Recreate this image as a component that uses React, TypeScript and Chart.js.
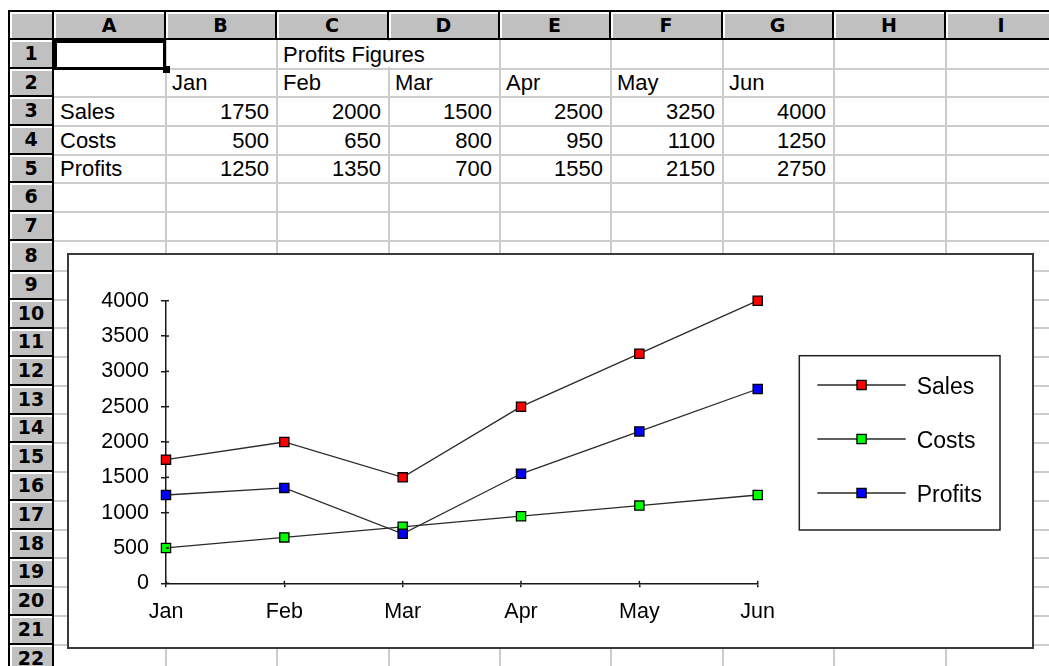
import React, { useEffect, useRef } from "react";
import { Chart, registerables } from "chart.js";

Chart.register(...registerables);

// ---------------- data ----------------
const months = ["Jan", "Feb", "Mar", "Apr", "May", "Jun"];
const seriesNames = ["Sales", "Costs", "Profits"];
const sales = [1750, 2000, 1500, 2500, 3250, 4000];
const costs = [500, 650, 800, 950, 1100, 1250];
const profits = [1250, 1350, 700, 1550, 2150, 2750];
const yTickValues = [0, 500, 1000, 1500, 2000, 2500, 3000, 3500, 4000];
const columnLetters = ["A", "B", "C", "D", "E", "F", "G", "H", "I"];
const rowNumbers = ["1", "2", "3", "4", "5", "6", "7", "8", "9", "10", "11", "12", "13", "14", "15", "16", "17", "18", "19", "20", "21", "22"];
const sheetTitle = "Profits Figures";

// ---------------- styles ----------------
const seriesColors = ["#ff0000", "#00ff00", "#0000ff"];
const seriesOrder = [2, 1, 0];
const FONT_FAMILY = "'Liberation Sans', Arial, sans-serif";
const HEAD_FONT = "'DejaVu Sans', Verdana, sans-serif";
const AXIS_COLOR = "#1a1a1a";
const LINE_COLOR = "#2a2a2a";
const GRID_COLOR = "#cccccc";
const HEAD_BG = "#c0c0c0";

// sheet geometry (page px)
const COL_EDGES = [54, 166, 277, 389, 500, 611, 723, 834, 946, 1058];
const ROW_EDGES = [40, 69, 97, 126, 155, 183, 212, 241, 271.5, 300, 328.5, 357, 386, 414.5, 443, 472, 501, 530, 558.5, 587, 616, 645, 674];
const HEAD_TOP = 12;
const LEFT_EDGE = 10;

// chart box (page px)
const BOX = { left: 67, top: 253, width: 967, height: 396, border: 2 };
const CANVAS_W = BOX.width - 2 * BOX.border;
const CANVAS_H = BOX.height - 2 * BOX.border;

// plot geometry (canvas px)
const PLOT_LEFT = 97;
const PLOT_TOP = 45.7;
const PLOT_RIGHT = 688.7;
const PLOT_BOTTOM = 328.3;
const AXIS_FONT = 21.5;

// legend geometry (canvas px)
const LEG_FONT = 23;
const LEG_STEP = 54;
const LEG_FIRST_CY = 133;
const LEG_ICON_DY = -3;
const LEG_LINE_X0 = 748.3;
const LEG_LINE_X1 = 836.7;
const LEG_MARK_CX = 792.5;
const LEG_TEXT_X = 847.7;
const LEG_FRAME = { x: 730.3, y: 100.7, w: 200.7, h: 174.3 };
const MARKER_SIDE = 9.2;

const LEG_PAD = LEG_STEP - LEG_FONT;
const LEG_X0 = PLOT_RIGHT + LEG_PAD;
const LEG_BOX_W = LEG_TEXT_X - LEG_FONT / 2 - LEG_X0;
const ICON_CX = LEG_X0 + LEG_BOX_W / 2;
const ICON_W = Math.ceil(2 * Math.max(LEG_LINE_X1 - ICON_CX, ICON_CX - LEG_LINE_X0)) + 2;
const ICON_H = 24;
const ICON_LEFT = ICON_CX - ICON_W / 2;
const LEG_TITLE_H = LEG_FIRST_CY - LEG_FONT / 2 - PLOT_TOP - LEG_PAD;

function makeIcon(fill: string): HTMLCanvasElement {
  const c = document.createElement("canvas");
  c.width = ICON_W;
  c.height = ICON_H;
  const g = c.getContext("2d")!;
  const cy = ICON_H / 2 + LEG_ICON_DY;
  g.strokeStyle = LINE_COLOR;
  g.lineWidth = 1.5;
  g.beginPath();
  g.moveTo(LEG_LINE_X0 - ICON_LEFT, cy);
  g.lineTo(LEG_LINE_X1 - ICON_LEFT, cy);
  g.stroke();
  const mx = LEG_MARK_CX - ICON_LEFT;
  const s = MARKER_SIDE;
  g.fillStyle = fill;
  g.fillRect(mx - s / 2, cy - s / 2, s, s);
  g.lineWidth = 1.3;
  g.strokeStyle = "#000";
  g.strokeRect(mx - s / 2, cy - s / 2, s, s);
  return c;
}

const decorPlugin = {
  id: "decor",
  afterDraw(chart: any) {
    const ctx = chart.ctx;
    const area = chart.chartArea;
    const xs = chart.scales.x;
    const ys = chart.scales.y;
    ctx.save();
    ctx.strokeStyle = AXIS_COLOR;
    ctx.lineWidth = 1.5;
    ys.ticks.forEach((_: any, i: number) => {
      const py = ys.getPixelForTick(i);
      ctx.beginPath();
      ctx.moveTo(area.left, py);
      ctx.lineTo(area.left + 3, py);
      ctx.stroke();
    });
    xs.ticks.forEach((_: any, i: number) => {
      const px = xs.getPixelForTick(i);
      ctx.beginPath();
      ctx.moveTo(px, area.bottom);
      ctx.lineTo(px, area.bottom - 2.5);
      ctx.stroke();
    });
    ctx.strokeStyle = "#222";
    ctx.lineWidth = 1.5;
    ctx.strokeRect(LEG_FRAME.x, LEG_FRAME.y, LEG_FRAME.w, LEG_FRAME.h);
    ctx.restore();
  },
};

function ChartBox() {
  const ref = useRef<HTMLCanvasElement | null>(null);
  useEffect(() => {
    const canvas = ref.current;
    if (!canvas) return;
    const m = document.createElement("canvas").getContext("2d")!;
    m.font = `${LEG_FONT}px ${FONT_FAMILY}`;
    const maxTextW = Math.max(...seriesNames.map((n) => m.measureText(n).width));
    const legendWidth = LEG_PAD + LEG_BOX_W + LEG_FONT / 2 + maxTextW + 10;
    const padRight = CANVAS_W - PLOT_RIGHT - legendWidth;
    const icons = seriesColors.map((c) => makeIcon(c));
    const values = [sales, costs, profits];

    const chart = new Chart(canvas, {
      type: "line",
      data: {
        labels: months,
        datasets: seriesNames.map((name, i) => ({
          label: name,
          data: values[i],
          order: seriesOrder[i],
          clip: false,
          borderColor: LINE_COLOR,
          borderWidth: 1.3,
          backgroundColor: seriesColors[i],
          pointStyle: "rect",
          pointRadius: MARKER_SIDE / Math.SQRT2,
          pointHoverRadius: MARKER_SIDE / Math.SQRT2,
          pointBackgroundColor: seriesColors[i],
          pointBorderColor: "#000",
          pointBorderWidth: 1.3,
          tension: 0,
          fill: false,
        })),
      },
      options: {
        responsive: false,
        animation: false,
        devicePixelRatio: 1,
        events: [],
        layout: { padding: { left: 0, top: PLOT_TOP, right: padRight, bottom: 0 } },
        scales: {
          x: {
            type: "category",
            offset: false,
            ticks: {
              color: "#000",
              font: { family: FONT_FAMILY, size: AXIS_FONT },
              padding: 11.5,
              maxRotation: 0,
              autoSkip: false,
            },
            grid: {
              display: true,
              drawOnChartArea: false,
              drawTicks: true,
              tickLength: 4,
              color: AXIS_COLOR,
              lineWidth: 1.5,
            },
            border: { display: true, color: AXIS_COLOR, width: 1.5 },
            afterFit: (s: any) => {
              s.height = CANVAS_H - PLOT_BOTTOM;
            },
          },
          y: {
            min: 0,
            max: 4000,
            afterBuildTicks: (s: any) => {
              s.ticks = yTickValues.map((v) => ({ value: v }));
            },
            ticks: {
              color: "#000",
              font: { family: FONT_FAMILY, size: AXIS_FONT },
              padding: 12,
              callback: (v: any) => String(v),
            },
            grid: {
              display: true,
              drawOnChartArea: false,
              drawTicks: true,
              tickLength: 5,
              color: AXIS_COLOR,
              lineWidth: 1.5,
            },
            border: { display: true, color: AXIS_COLOR, width: 1.5 },
            afterFit: (s: any) => {
              s.width = PLOT_LEFT;
            },
          },
        },
        plugins: {
          tooltip: { enabled: false },
          title: { display: false },
          legend: {
            display: true,
            position: "right",
            align: "start",
            fullSize: false,
            maxWidth: 600,
            title: {
              display: true,
              text: "",
              font: { size: 10, lineHeight: 1.2 },
              padding: { top: LEG_TITLE_H - 12, bottom: 0 },
            },
            labels: {
              usePointStyle: true,
              pointStyleWidth: LEG_BOX_W,
              padding: LEG_PAD,
              color: "#000",
              font: { family: FONT_FAMILY, size: LEG_FONT },
              generateLabels: () =>
                seriesNames.map((name, i) => ({
                  text: name,
                  pointStyle: icons[i] as any,
                  fillStyle: seriesColors[i],
                  strokeStyle: "#000",
                  lineWidth: 0,
                  hidden: false,
                  datasetIndex: i,
                  fontColor: "#000",
                })),
            },
          },
        },
      } as any,
      plugins: [decorPlugin],
    });
    return () => chart.destroy();
  }, []);

  return (
    <div
      style={{
        position: "absolute",
        left: BOX.left,
        top: BOX.top,
        width: BOX.width,
        height: BOX.height,
        boxSizing: "border-box",
        border: `${BOX.border}px solid #3a3a3a`,
        background: "#fff",
      }}
    >
      <canvas ref={ref} width={CANVAS_W} height={CANVAS_H} style={{ display: "block", width: CANVAS_W, height: CANVAS_H }} />
    </div>
  );
}

type Cell = { col: number; row: number; text: string; align: "left" | "right" };

function buildCells(): Cell[] {
  const cells: Cell[] = [];
  cells.push({ col: 2, row: 0, text: sheetTitle, align: "left" });
  months.forEach((mth, j) => cells.push({ col: j + 1, row: 1, text: mth, align: "left" }));
  const values = [sales, costs, profits];
  seriesNames.forEach((name, i) => {
    cells.push({ col: 0, row: 2 + i, text: name, align: "left" });
    values[i].forEach((v, j) => cells.push({ col: j + 1, row: 2 + i, text: String(v), align: "right" }));
  });
  return cells;
}

export default function App() {
  const els: React.ReactNode[] = [];
  const headH = ROW_EDGES[0] - HEAD_TOP;

  // grid lines
  for (let i = 1; i < COL_EDGES.length - 1; i++) {
    els.push(
      <div key={`vg${i}`} style={{ position: "absolute", left: COL_EDGES[i] - 1.5, top: ROW_EDGES[0], width: 2, height: 640, background: GRID_COLOR }} />
    );
  }
  for (let r = 1; r < ROW_EDGES.length; r++) {
    els.push(
      <div key={`hg${r}`} style={{ position: "absolute", left: COL_EDGES[0], top: ROW_EDGES[r] - 1.2, width: 1000, height: 2, background: GRID_COLOR }} />
    );
  }
  // hide gridline under overflowing title text
  els.push(<div key="patch" style={{ position: "absolute", left: COL_EDGES[3] - 3, top: ROW_EDGES[0] + 1, width: 6, height: ROW_EDGES[1] - ROW_EDGES[0] - 3, background: "#fff" }} />);

  const headBase: React.CSSProperties = {
    position: "absolute",
    background: HEAD_BG,
    boxSizing: "border-box",
    borderRight: "2px solid #000",
    borderBottom: "2px solid #000",
    boxShadow: "inset 2px 2px 0 #ffffff",
    display: "flex",
    alignItems: "center",
    justifyContent: "center",
    fontFamily: HEAD_FONT,
    fontWeight: "bold",
    fontSize: 19,
    color: "#000",
    lineHeight: 1,
  };
  // corner
  els.push(<div key="corner" style={{ ...headBase, left: LEFT_EDGE, top: HEAD_TOP, width: COL_EDGES[0] - LEFT_EDGE, height: headH }} />);
  columnLetters.forEach((L, i) => {
    els.push(
      <div key={`ch${i}`} style={{ ...headBase, left: COL_EDGES[i], top: HEAD_TOP, width: COL_EDGES[i + 1] - COL_EDGES[i], height: headH }}>
        {L}
      </div>
    );
  });
  rowNumbers.forEach((n, r) => {
    els.push(
      <div key={`rh${r}`} style={{ ...headBase, left: LEFT_EDGE, top: ROW_EDGES[r], width: COL_EDGES[0] - LEFT_EDGE, height: ROW_EDGES[r + 1] - ROW_EDGES[r] }}>
        {n}
      </div>
    );
  });
  // outer frame
  els.push(<div key="ft" style={{ position: "absolute", left: 8, top: 10, width: 1049, height: 2, background: "#000" }} />);
  els.push(<div key="fl" style={{ position: "absolute", left: 8, top: 10, width: 2, height: 660, background: "#000" }} />);

  // active cell
  els.push(
    <div key="act" style={{ position: "absolute", left: COL_EDGES[0], top: ROW_EDGES[0], width: COL_EDGES[1] - COL_EDGES[0], height: ROW_EDGES[1] - ROW_EDGES[0] + 0.5, boxSizing: "border-box", border: "3px solid #000" }} />
  );
  els.push(<div key="fh" style={{ position: "absolute", left: COL_EDGES[1] - 3.5, top: ROW_EDGES[1] - 3, width: 7, height: 7, background: "#000" }} />);

  // cell texts
  buildCells().forEach((c, k) => {
    const left = COL_EDGES[c.col];
    const width = COL_EDGES[c.col + 1] - left;
    const top = ROW_EDGES[c.row];
    const height = ROW_EDGES[c.row + 1] - top;
    els.push(
      <div
        key={`t${k}`}
        style={{
          position: "absolute",
          left,
          top,
          width,
          height,
          boxSizing: "border-box",
          display: "flex",
          alignItems: "center",
          justifyContent: c.align === "left" ? "flex-start" : "flex-end",
          paddingLeft: c.align === "left" ? 6 : 0,
          paddingRight: c.align === "right" ? 8 : 0,
          whiteSpace: "nowrap",
          fontFamily: FONT_FAMILY,
          fontSize: 22,
          lineHeight: 1,
          color: "#000",
        }}
      >
        {c.text}
      </div>
    );
  });

  return (
    <div style={{ position: "absolute", left: 0, top: 0, width: 1049, height: 666, overflow: "hidden", background: "#fff" }}>
      {els}
      <ChartBox />
    </div>
  );
}
